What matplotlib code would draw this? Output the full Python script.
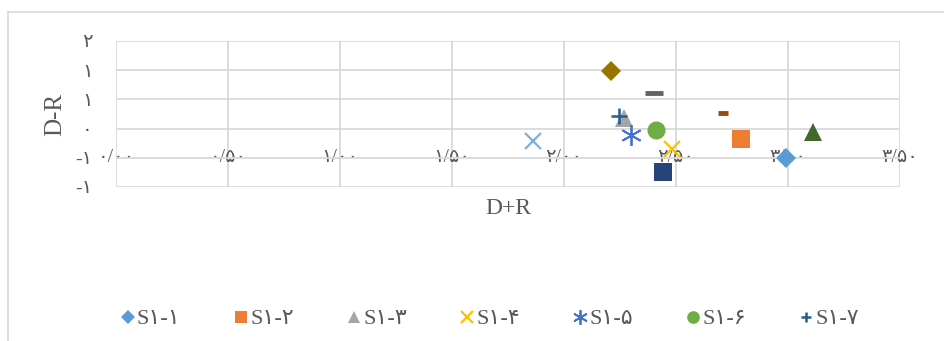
import matplotlib
matplotlib.use("Agg")
import matplotlib.pyplot as plt
from matplotlib.lines import Line2D

plt.rcParams['font.family'] = ['Liberation Serif', 'DejaVu Sans']

# ─── Data ───────────────────────────────────────────────────────────────────
series_names = ['S۱-۱', 'S۱-۲', 'S۱-۳', 'S۱-۴', 'S۱-۵', 'S۱-۶', 'S۱-۷',
                'S۱-۸', 'S۱-۹', 'S۱-۱۰', 'S۱-۱۱', 'S۱-۱۲', 'S۱-۱۳']
d_plus_r = [2.99, 2.79, 2.27, 2.48, 2.30, 2.41, 2.245,
            2.71, 2.40, 2.21, 2.44, 3.11, 1.86]
d_minus_r = [-0.50, -0.18, 0.18, -0.35, -0.11, -0.02, 0.22,
             0.26, 0.61, 0.99, -0.74, -0.05, -0.21]

x_ticks = [0.0, 0.5, 1.0, 1.5, 2.0, 2.5, 3.0, 3.5]
x_tick_labels = ['۰/۰۰', '۰/۵۰', '۱/۰۰', '۱/۵۰', '۲/۰۰', '۲/۵۰', '۳/۰۰', '۳/۵۰']
y_ticks = [-1.0, -0.5, 0.0, 0.5, 1.0, 1.5]
y_tick_labels = ['-۱', '-۱', '۰', '۱', '۱', '۲']

# ─── Styles (Excel default marker cycle) ────────────────────────────────────
colors = ['#5B9BD5', '#ED7D31', '#A5A5A5', '#FFC000', '#4472C4', '#70AD47', '#255E91',
          '#9E480E', '#636363', '#997300', '#264478', '#43682B', '#7CAFDD']
markers = ['D', 's', '^', 'x', (6, 2, 0), 'o', '+',
           '_', '_', 'D', 's', '^', 'x']
sizes = [10, 12.5, 12.5, 12, 15, 13, 11,
         7, 13.5, 10, 12.5, 12.5, 12]
edge_w = [0, 0, 0, 1.6, 1.3, 0, 1.8,
          3.5, 3.5, 0, 0, 0, 1.6]

text_col = '#595959'
grid_col = '#D9D9D9'

fig = plt.figure(figsize=(9.45, 3.41), dpi=100)
ax = fig.add_axes([116 / 945, 1 - 187 / 341, 784 / 945, 146 / 341])

handles = []
for name, x, y, c, m, s, ew in zip(series_names, d_plus_r, d_minus_r,
                                   colors, markers, sizes, edge_w):
    h, = ax.plot([x], [y], linestyle='none', marker=m, markersize=s,
                 color=c, markeredgecolor=c, markeredgewidth=ew,
                 label=name, zorder=3)
    handles.append(h)

ax.set_xlim(0, 3.5)
ax.set_ylim(-1, 1.5)
ax.set_xticks(x_ticks)
ax.set_xticklabels(x_tick_labels)
ax.set_yticks(y_ticks)
ax.set_yticklabels(y_tick_labels)

ax.grid(True, color=grid_col, linewidth=1.3, zorder=0)
ax.set_axisbelow(True)
for sp in ax.spines.values():
    sp.set_visible(False)

# horizontal axis crosses at -0.5, labels sit on that line
ax.spines['bottom'].set_position(('data', -0.5))
ax.tick_params(axis='both', length=0, labelsize=14, labelcolor=text_col)
ax.tick_params(axis='x', pad=0)
ax.tick_params(axis='y', pad=17)
for t in ax.get_xticklabels():
    t.set_verticalalignment('center')

ax.set_xlabel('D+R', fontsize=17, color=text_col, va='center')
ax.xaxis.set_label_coords(0.5, -0.144)
ax.set_ylabel('D-R', fontsize=18, color=text_col, va='center')
ax.yaxis.set_label_coords(-0.078, 0.5)

fig.legend(handles=handles[:7], loc='center', bbox_to_anchor=(0.519, 0.064),
           ncol=7, frameon=False, fontsize=16, markerscale=0.7,
           handlelength=0.55, handletextpad=0.12, columnspacing=2.45,
           labelcolor=text_col)

# chart-area border (left and top edges visible)
fig.add_artist(Line2D([8 / 945, 8 / 945], [0, 1 - 12 / 341],
                      transform=fig.transFigure, color=grid_col, lw=1.2))
fig.add_artist(Line2D([8 / 945, 1], [1 - 12 / 341, 1 - 12 / 341],
                      transform=fig.transFigure, color=grid_col, lw=1.2))

fig.savefig('out.png', dpi=100)
